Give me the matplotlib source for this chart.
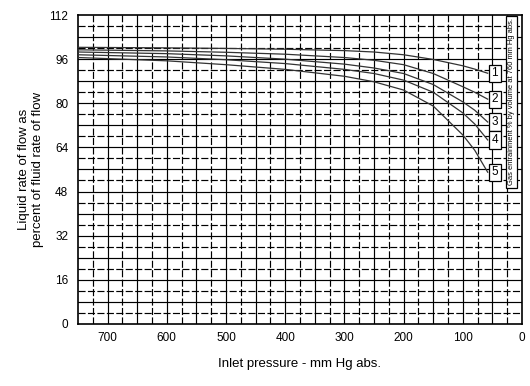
import numpy as np
import matplotlib.pyplot as plt

plt.rcParams['font.family'] = ['Liberation Sans', 'DejaVu Sans']

# inlet pressure (mm Hg abs.) where the curves were read
pressure = [750, 600, 500, 400, 300, 250, 200, 150, 100, 80, 58]
# liquid rate of flow as % of fluid rate, one list per gas entrainment curve
curve1 = [100.3, 100.1, 99.9, 99.6, 99.1, 98.6, 97.6, 95.9, 93.6, 92.4, 90.9]
curve2 = [99.4, 99.0, 98.5, 97.8, 96.6, 95.6, 94.0, 90.8, 86.0, 84.0, 81.5]
curve3 = [98.6, 98.0, 97.2, 96.0, 94.2, 92.8, 90.8, 86.8, 80.5, 77.5, 73.2]
curve4 = [97.6, 96.8, 95.8, 94.4, 92.3, 90.8, 88.4, 84.0, 76.5, 72.5, 66.7]
curve5 = [96.6, 95.4, 94.0, 92.3, 89.8, 87.8, 84.8, 79.0, 68.5, 63.0, 55.0]
curves = [curve1, curve2, curve3, curve4, curve5]
labels = ['1', '2', '3', '4', '5']

xticks = [700, 600, 500, 400, 300, 200, 100, 0]
yticks = [0, 16, 32, 48, 64, 80, 96, 112]

fig = plt.figure(figsize=(5.3, 3.86), dpi=100)
ax = fig.add_axes([0.147, 0.161, 0.838, 0.800])

# grid: solid every 50 / 8, dashed in between
for x in np.arange(25, 750, 25):
    ls = '-' if x % 50 == 0 else (0, (6, 2))
    ax.axvline(x, color='black', lw=0.85, ls=ls, zorder=1)
for y in np.arange(4, 112, 4):
    ls = '-' if y % 8 == 0 else (0, (6, 2))
    ax.axhline(y, color='black', lw=0.85, ls=ls, zorder=1)

for c, lab in zip(curves, labels):
    ax.plot(pressure, c, color='#333333', lw=0.9, zorder=3)
    ax.text(46, c[-1], lab, ha='center', va='center', fontsize=8.5, zorder=5,
            bbox=dict(boxstyle='square,pad=0.22', fc='white', ec='black', lw=0.9))

ax.text(17.5, 80.5, 'Gas entrainment % by volume at 760 mm Hg abs.', rotation=90,
        ha='center', va='center', fontsize=5.4, zorder=5,
        bbox=dict(boxstyle='square,pad=0.3', fc='white', ec='black', lw=0.9))

ax.set_xlim(750, 0)
ax.set_ylim(0, 112)
ax.set_xticks(xticks)
ax.set_yticks(yticks)
ax.tick_params(length=0, labelsize=8.5)
ax.tick_params(axis='x', pad=6)
ax.tick_params(axis='y', pad=7)
for s in ax.spines.values():
    s.set_linewidth(1.2)

ax.set_xlabel('Inlet pressure - mm Hg abs.', fontsize=9.5, labelpad=10)
ax.set_ylabel('Liquid rate of flow as\npercent of fluid rate of flow', fontsize=9.5, labelpad=4)

fig.savefig('out.png', dpi=100)
